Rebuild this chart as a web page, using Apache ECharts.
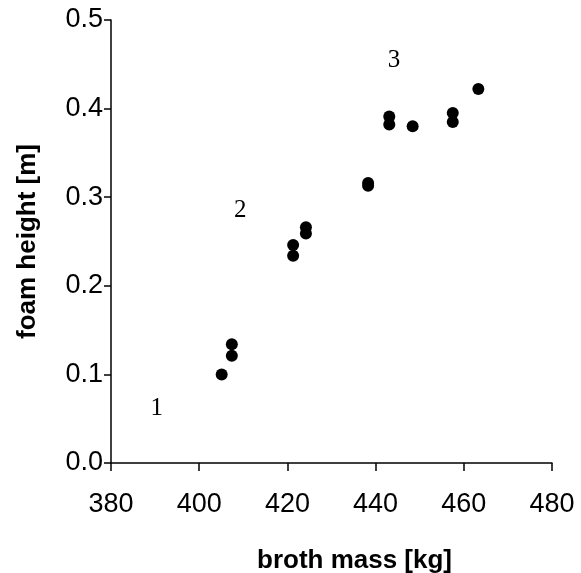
<!DOCTYPE html>
<html>
<head>
<meta charset="utf-8">
<script src="https://cdn.jsdelivr.net/npm/echarts@6/dist/echarts.min.js"></script>
<style>html,body{margin:0;padding:0;background:#fff;}#c{width:581px;height:573px;}</style>
</head>
<body>
<div id="c"></div>
<script>
// broth mass [kg]
const brothMass = [405.1, 407.4, 407.4, 421.3, 421.3, 424.2, 424.2, 438.3, 438.3, 443.1, 443.1, 448.4, 457.5, 457.5, 463.3];
// foam height [m]
const foamHeight = [0.100, 0.134, 0.121, 0.246, 0.234, 0.266, 0.259, 0.316, 0.313, 0.391, 0.382, 0.380, 0.395, 0.385, 0.422];
// region labels
const regionNames = ['1', '2', '3'];
const regionX = [390.4, 409.3, 444.2];
const regionY = [0.062, 0.285, 0.454];
const xTicks = [380, 400, 420, 440, 460, 480];
const yTicks = [0.0, 0.1, 0.2, 0.3, 0.4, 0.5];

const chart = echarts.init(document.getElementById('c'), null, {renderer: 'canvas'});
const pts = brothMass.map((m, i) => [m, foamHeight[i]]);
const lbls = regionNames.map((n, i) => ({value: [regionX[i], regionY[i]], name: n}));
const axisFont = 'Liberation Sans';
chart.setOption({
  animation: false,
  backgroundColor: '#fff',
  grid: {left: 111, right: 29, top: 20, bottom: 110},
  xAxis: {
    type: 'value', min: xTicks[0], max: xTicks[xTicks.length - 1], interval: 20,
    splitLine: {show: false},
    axisLine: {show: true, onZero: false, lineStyle: {color: '#000', width: 1.5}},
    axisTick: {show: true, length: 8, lineStyle: {color: '#000', width: 1.5}},
    axisLabel: {color: '#000', fontSize: 27, fontFamily: axisFont, margin: 28}
  },
  yAxis: {
    type: 'value', min: yTicks[0], max: yTicks[yTicks.length - 1], interval: 0.1,
    splitLine: {show: false},
    name: 'foam height [m]', nameLocation: 'middle', nameGap: 70,
    nameTextStyle: {color: '#000', fontSize: 26, fontWeight: 'bold', fontFamily: axisFont},
    axisLine: {show: true, onZero: false, lineStyle: {color: '#000', width: 1.5}},
    axisTick: {show: true, length: 7, lineStyle: {color: '#000', width: 1.5}},
    axisLabel: {color: '#000', fontSize: 27, fontFamily: axisFont, margin: 8,
      formatter: v => v.toFixed(1)}
  },
  graphic: [{
    type: 'text', left: 257, top: 548,
    style: {text: 'broth mass [kg]', fill: '#000', font: 'bold 26px "Liberation Sans"'}
  }],
  series: [{
    type: 'scatter', data: pts, symbol: 'circle', symbolSize: 12,
    itemStyle: {color: '#000', opacity: 1}
  }, {
    type: 'scatter', data: lbls, symbolSize: 0,
    itemStyle: {opacity: 1},
    label: {show: true, position: 'inside', formatter: p => p.name,
      color: '#000', fontSize: 25, fontFamily: 'Liberation Serif'}
  }]
});
</script>
</body>
</html>
